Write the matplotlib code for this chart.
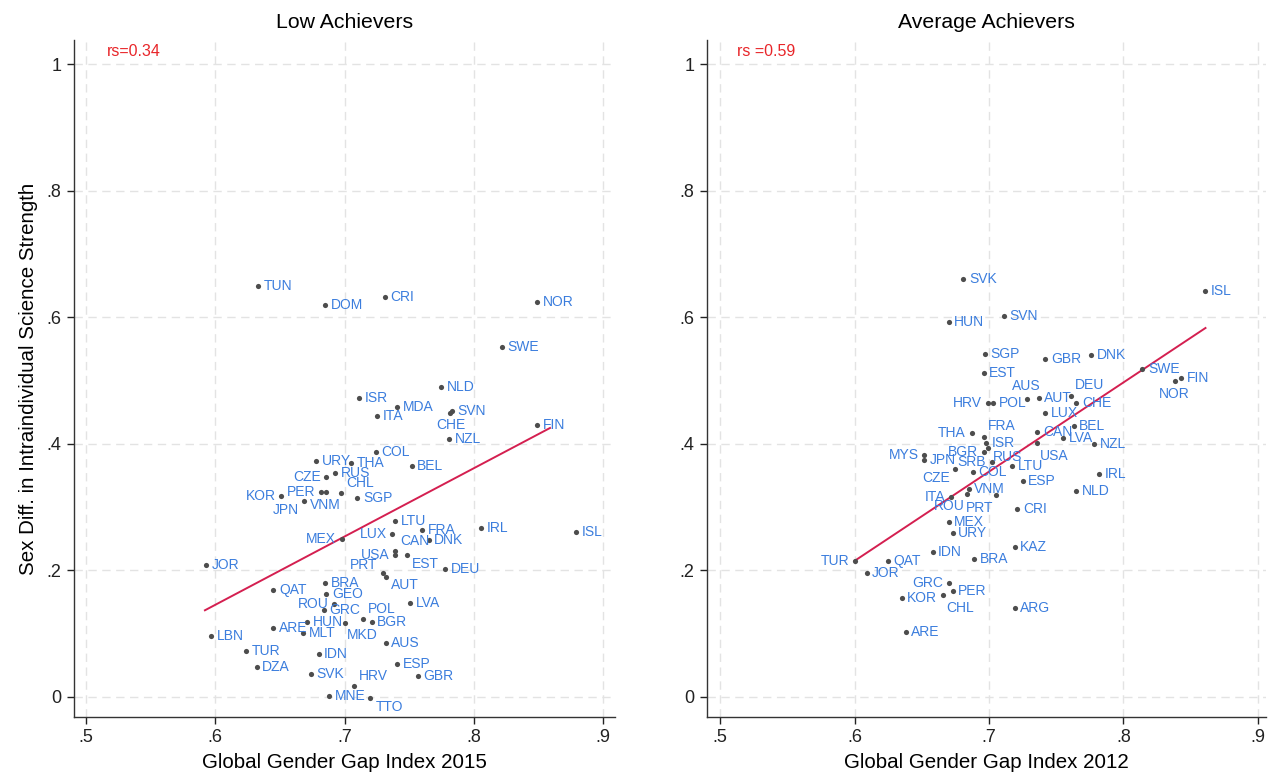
import matplotlib
matplotlib.use("Agg")
import matplotlib.pyplot as plt

plt.rcParams['font.family'] = ['Liberation Sans', 'DejaVu Sans']

# ---------------- data: Low Achievers (GGGI 2015) ----------------
codes_low = ["TUN", "DOM", "CRI", "NOR", "SWE", "NLD", "ISR", "MDA", "ITA", "SVN",
             "CHE", "FIN", "NZL", "COL", "URY", "THA", "BEL", "RUS", "CZE", "PER",
             "JPN", "KOR", "CHL", "VNM", "SGP", "LTU", "FRA", "IRL", "ISL", "MEX",
             "LUX", "DNK", "USA", "CAN", "EST", "DEU", "JOR", "PRT", "AUT", "QAT",
             "BRA", "GEO", "ROU", "GRC", "LVA", "POL", "BGR", "HUN", "MKD", "ARE",
             "MLT", "LBN", "AUS", "IDN", "TUR", "DZA", "ESP", "SVK", "GBR", "HRV",
             "MNE", "TTO"]
ggi_low = [0.633, 0.685, 0.731, 0.849, 0.822, 0.775, 0.711, 0.741, 0.725, 0.783,
           0.782, 0.849, 0.781, 0.724, 0.678, 0.705, 0.752, 0.693, 0.686, 0.682,
           0.686, 0.651, 0.697, 0.669, 0.710, 0.739, 0.760, 0.806, 0.879, 0.698,
           0.737, 0.765, 0.739, 0.739, 0.748, 0.778, 0.593, 0.730, 0.732, 0.645,
           0.685, 0.686, 0.692, 0.684, 0.751, 0.714, 0.721, 0.671, 0.700, 0.645,
           0.668, 0.597, 0.732, 0.680, 0.624, 0.632, 0.741, 0.674, 0.757, 0.707,
           0.688, 0.720]
diff_low = [0.649, 0.619, 0.632, 0.624, 0.553, 0.490, 0.472, 0.458, 0.444, 0.452,
            0.449, 0.430, 0.408, 0.387, 0.373, 0.370, 0.365, 0.354, 0.348, 0.324,
            0.324, 0.318, 0.322, 0.310, 0.314, 0.278, 0.264, 0.267, 0.261, 0.250,
            0.258, 0.248, 0.224, 0.231, 0.224, 0.202, 0.209, 0.196, 0.190, 0.169,
            0.180, 0.163, 0.147, 0.137, 0.148, 0.123, 0.118, 0.118, 0.117, 0.109,
            0.101, 0.096, 0.085, 0.068, 0.073, 0.047, 0.052, 0.036, 0.033, 0.017,
            0.002, -0.002]
fit_x_low = [0.592, 0.859]
fit_y_low = [0.137, 0.425]
rs_low = "rs=0.34"

# ---------------- data: Average Achievers (GGGI 2012) ----------------
codes_avg = ["SVK", "ISL", "HUN", "SVN", "SGP", "GBR", "DNK", "EST", "SWE", "FIN",
             "NOR", "AUS", "AUT", "DEU", "CHE", "HRV", "POL", "LUX", "BEL", "THA",
             "FRA", "CAN", "LVA", "NZL", "USA", "ISR", "RUS", "BGR", "MYS", "JPN",
             "SRB", "LTU", "CZE", "COL", "IRL", "ESP", "NLD", "VNM", "ROU", "ITA",
             "PRT", "CRI", "MEX", "URY", "KAZ", "IDN", "BRA", "TUR", "QAT", "JOR",
             "GRC", "PER", "CHL", "KOR", "ARG", "ARE"]
ggi_avg = [0.681, 0.861, 0.670, 0.711, 0.697, 0.742, 0.776, 0.696, 0.814, 0.843,
           0.838, 0.728, 0.737, 0.761, 0.765, 0.699, 0.703, 0.742, 0.763, 0.687,
           0.696, 0.736, 0.755, 0.778, 0.736, 0.698, 0.699, 0.696, 0.652, 0.652,
           0.702, 0.717, 0.675, 0.688, 0.782, 0.725, 0.765, 0.685, 0.684, 0.672,
           0.705, 0.721, 0.670, 0.673, 0.719, 0.658, 0.689, 0.600, 0.625, 0.609,
           0.670, 0.673, 0.666, 0.635, 0.719, 0.638]
diff_avg = [0.660, 0.641, 0.592, 0.602, 0.542, 0.534, 0.540, 0.512, 0.518, 0.504,
            0.499, 0.471, 0.472, 0.476, 0.464, 0.464, 0.464, 0.449, 0.428, 0.417,
            0.411, 0.419, 0.409, 0.400, 0.401, 0.401, 0.393, 0.387, 0.382, 0.374,
            0.371, 0.365, 0.360, 0.355, 0.352, 0.341, 0.325, 0.329, 0.321, 0.316,
            0.319, 0.297, 0.276, 0.259, 0.237, 0.229, 0.218, 0.215, 0.215, 0.196,
            0.180, 0.167, 0.161, 0.156, 0.141, 0.103]
fit_x_avg = [0.600, 0.861]
fit_y_avg = [0.215, 0.583]
rs_avg = "rs =0.59"

# ---------------- label placement (clock positions / offsets, styling only) ----------------
pos_low = {"CHE": 6, "KOR": 9, "PER": 9, "CZE": 9, "CHL": 2,
           "JPN": (-20, -13, 'right', 'center'), "VNM": (4, -3, 'left', 'center'),
           "MEX": 9, "LUX": 9, "USA": 9,
           "CAN": 2, "EST": 4, "PRT": 10, "AUT": 4, "ROU": 9, "POL": 2, "MKD": 5,
           "TTO": 4, "HRV": 2}
pos_avg = {"NOR": 6, "AUS": 12, "DEU": 1, "HRV": 9, "THA": 9, "FRA": 1, "USA": 5,
           "BGR": 9, "RUS": 4, "MYS": 9, "SRB": 9, "CZE": 8, "ROU": 7, "ITA": 9,
           "PRT": 7, "TUR": 9, "GRC": 9, "CHL": 5}

OFF = {3: (4, 0, 'left', 'center'), 9: (-4, 0, 'right', 'center'),
       12: (0, 4, 'center', 'bottom'), 6: (0, -4, 'center', 'top'),
       1: (3, 3, 'left', 'bottom'), 2: (4, 2, 'left', 'bottom'),
       4: (4, -1, 'left', 'top'), 5: (2, -4, 'left', 'top'),
       7: (-2, -4, 'right', 'top'), 8: (-4, -1, 'right', 'top'),
       10: (-4, 1, 'right', 'bottom'), 11: (-2, 4, 'right', 'bottom')}

LABEL_BLUE = '#3b7ddd'
DOT = '#4d4d4d'
FIT = '#d41f50'

fig = plt.figure(figsize=(12.71, 7.78), dpi=100)
ax1 = fig.add_axes([74 / 1271, 61 / 778, 541 / 1271, 677 / 778])
ax2 = fig.add_axes([707 / 1271, 61 / 778, 559 / 1271, 677 / 778])


def draw(ax, codes, xs, ys, fx, fy, pos, rs, rs_x, title, xlabel, xlim):
    ax.set_xlim(*xlim)
    ax.set_ylim(-0.0316, 1.038)
    ax.set_xticks([0.5, 0.6, 0.7, 0.8, 0.9])
    ax.set_xticklabels(['.5', '.6', '.7', '.8', '.9'])
    ax.set_yticks([0, 0.2, 0.4, 0.6, 0.8, 1.0])
    ax.set_yticklabels(['0', '.2', '.4', '.6', '.8', '1'])
    ax.grid(True, color='#e3e3e3', linestyle=(0, (6, 4)), linewidth=1.0)
    ax.set_axisbelow(True)
    for s in ('top', 'right'):
        ax.spines[s].set_visible(False)
    for s in ('left', 'bottom'):
        ax.spines[s].set_color('#333333')
        ax.spines[s].set_linewidth(1.0)
    ax.tick_params(direction='out', length=5, width=1, colors='#222222',
                   labelsize=13, pad=4)
    ax.plot(fx, fy, color=FIT, linewidth=1.4, zorder=2)
    ax.scatter(xs, ys, s=14, color=DOT, zorder=3, linewidths=0)
    for c, x, y in zip(codes, xs, ys):
        p = pos.get(c, 3)
        dx, dy, ha, va = OFF[p] if isinstance(p, int) else p
        ax.annotate(c, (x, y), xytext=(dx, dy), textcoords='offset points',
                    ha=ha, va=va, fontsize=10, color=LABEL_BLUE, zorder=4)
    ax.text(rs_x, 0.994, rs, transform=ax.transAxes, color='#e8262a',
            fontsize=11.5, ha='left', va='top')
    ax.set_title(title, fontsize=15.3, pad=9)
    ax.set_xlabel(xlabel, fontsize=14.8, labelpad=5)


draw(ax1, codes_low, ggi_low, diff_low, fit_x_low, fit_y_low, pos_low, rs_low, 0.061,
     "Low Achievers", "Global Gender Gap Index 2015", (0.4907, 0.9093))
draw(ax2, codes_avg, ggi_avg, diff_avg, fit_x_avg, fit_y_avg, pos_avg, rs_avg, 0.054,
     "Average Achievers", "Global Gender Gap Index 2012", (0.4903, 0.906))
ax1.set_ylabel("Sex Diff. in Intraindividual Science Strength", fontsize=14.8,
               labelpad=6)

fig.savefig("out.png", dpi=100, facecolor='white')
